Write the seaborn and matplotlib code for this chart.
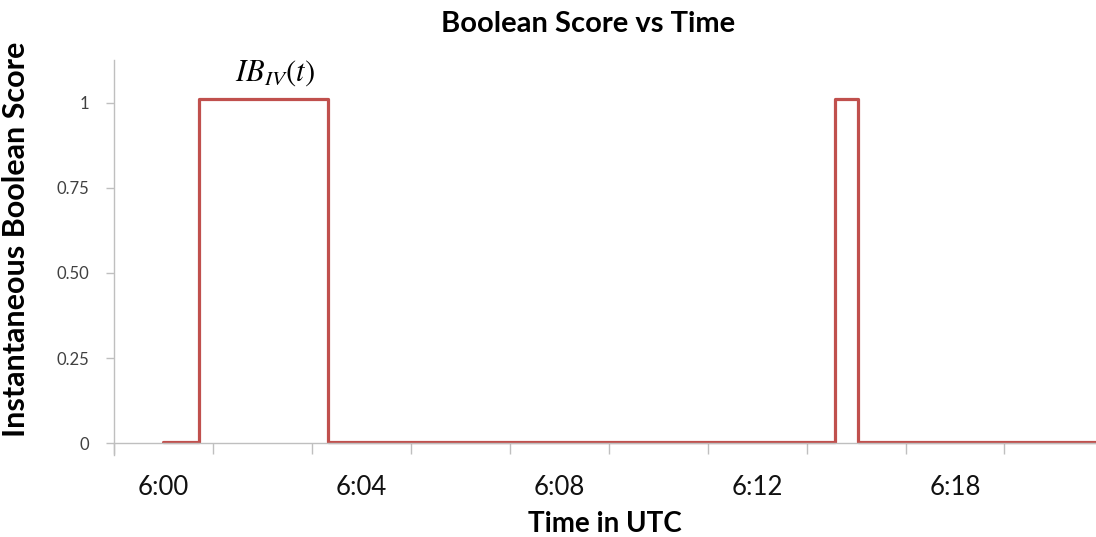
import numpy as np
import pandas as pd
import matplotlib
matplotlib.use("Agg")
import matplotlib.pyplot as plt
import seaborn as sns

# Data: minutes after 6:00 and the instantaneous boolean score (step changes)
minutes = [0.0, 0.71, 3.33, 13.58, 14.04, 18.85]
score = [0.004, 1.012, 0.004, 1.012, 0.004, 0.004]
tick_labels = ["6:00", "6:04", "6:08", "6:12", "6:18"]
label_pos = [0, 4, 8, 12, 16]
ytick_vals = [0, 0.25, 0.5, 0.75, 1]
ytick_labels = ["0", "0.25", "0.50", "0.75", "1"]

df = pd.DataFrame({"minute": minutes, "score": score})

sns.set_style("white")
plt.rcParams["font.family"] = ["Lato", "DejaVu Sans"]
plt.rcParams["mathtext.fontset"] = "stix"
plt.rcParams["text.color"] = "black"
plt.rcParams["axes.labelcolor"] = "black"

fig = plt.figure(figsize=(10.96, 5.37), dpi=100)
ax = fig.add_axes([114 / 1096, 82 / 537, 982 / 1096, 395 / 537])

sns.lineplot(data=df, x="minute", y="score", drawstyle="steps-post",
             color="#c0504d", linewidth=2.3, ax=ax)

ax.set_xlim(-1, 18.85)
ax.set_ylim(-0.035, 1.126)

# axis lines
for s in ["top", "right"]:
    ax.spines[s].set_visible(False)
ax.spines["bottom"].set_position(("data", 0))
ax.spines["bottom"].set_color("#bfbfbf")
ax.spines["left"].set_color("#bfbfbf")
ax.spines["bottom"].set_linewidth(1.0)
ax.spines["left"].set_linewidth(1.0)

# x: tick marks every 2 min, labels centred between them
ax.set_xticks(label_pos)
ax.set_xticklabels(tick_labels, fontsize=18.5, color="#111111")
ax.set_xticks(np.arange(-1, 19, 2), minor=True)
ax.tick_params(axis="x", which="major", length=0, pad=23)
ax.tick_params(axis="x", which="minor", length=8, width=1, color="#bfbfbf",
               direction="out", bottom=True)

ax.set_yticks(ytick_vals)
ax.set_yticklabels(ytick_labels, fontsize=12, color="#404040")
ax.tick_params(axis="y", length=6, width=1, color="#bfbfbf", direction="out",
               left=True, pad=12)

ax.set_xlabel("Time in UTC", fontsize=20, fontweight="bold", labelpad=8)
ax.set_ylabel("Instantaneous Boolean Score", fontsize=22, fontweight="bold")
ax.yaxis.set_label_coords(-0.086, 0.545)
fig.text(588 / 1096, 1 - 24 / 537, "Boolean Score vs Time", fontsize=21,
         fontweight="bold", ha="center", va="center")

ax.text(2.25, 1.045, r"$IB_{IV}(t)$", fontsize=22, ha="center", va="bottom")

ax.grid(False)
fig.savefig("out.png", dpi=100)
